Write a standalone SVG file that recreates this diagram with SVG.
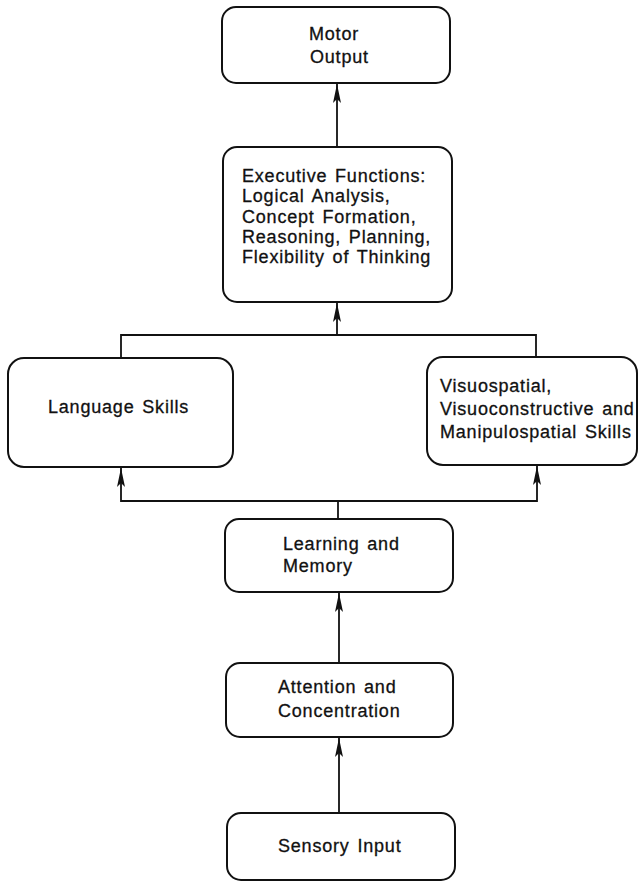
<svg xmlns="http://www.w3.org/2000/svg" width="640" height="882" viewBox="0 0 640 882">
<defs>
<marker id="ah" markerUnits="userSpaceOnUse" markerWidth="20" markerHeight="12" viewBox="-19 -6 20 12" refX="0" refY="0" orient="auto">
<path d="M0,0 L-19,-4 L-15,0 L-19,4 Z" fill="#111"/>
</marker>
</defs>
<style>
.box{fill:#fff;stroke:#111;stroke-width:2}
.t{font-family:"Liberation Sans",Arial,sans-serif;font-size:18px;fill:#111;stroke:#111;stroke-width:0.3;letter-spacing:0.8px;word-spacing:2px}
.c{fill:none;stroke:#111;stroke-width:1.8}
</style>
<rect width="640" height="882" fill="#fff"/>
<g id="connectors">
<line class="c" x1="337" y1="147" x2="337" y2="84" marker-end="url(#ah)"/>
<polyline class="c" points="121,358 121,335 536,335 536,357"/>
<line class="c" x1="337" y1="335" x2="337" y2="303" marker-end="url(#ah)"/>
<polyline class="c" points="338,501 121,501 121,468" marker-end="url(#ah)"/>
<polyline class="c" points="338,501 537,501 537,466" marker-end="url(#ah)"/>
<line class="c" x1="338" y1="519" x2="338" y2="501"/>
<line class="c" x1="339" y1="663" x2="339" y2="593" marker-end="url(#ah)"/>
<line class="c" x1="339" y1="813" x2="339" y2="738" marker-end="url(#ah)"/>
</g>
<g id="motor">
<rect class="box" x="222" y="7" width="228" height="76" rx="14"/>
<text class="t" x="309" y="40">Motor</text>
<text class="t" x="310" y="63">Output</text>
</g>
<g id="executive">
<rect class="box" x="223" y="147" width="229" height="155" rx="14"/>
<text class="t" x="242" y="182">Executive Functions:</text>
<text class="t" x="242" y="202">Logical Analysis,</text>
<text class="t" x="242" y="223">Concept Formation,</text>
<text class="t" x="242" y="243">Reasoning, Planning,</text>
<text class="t" x="242" y="263">Flexibility of Thinking</text>
</g>
<g id="language">
<rect class="box" x="8" y="358" width="225" height="109" rx="16"/>
<text class="t" x="48" y="413">Language Skills</text>
</g>
<g id="visuo">
<rect class="box" x="427" y="357" width="210" height="108" rx="16"/>
<text class="t" x="440" y="392">Visuospatial,</text>
<text class="t" x="440" y="415">Visuoconstructive and</text>
<text class="t" x="440" y="438">Manipulospatial Skills</text>
</g>
<g id="learning">
<rect class="box" x="225" y="519" width="228" height="73" rx="14"/>
<text class="t" x="283" y="550">Learning and</text>
<text class="t" x="283" y="572">Memory</text>
</g>
<g id="attention">
<rect class="box" x="226" y="663" width="227" height="74" rx="14"/>
<text class="t" x="278" y="693">Attention and</text>
<text class="t" x="278" y="717">Concentration</text>
</g>
<g id="sensory">
<rect class="box" x="227" y="813" width="228" height="67" rx="14"/>
<text class="t" x="278" y="852">Sensory Input</text>
</g>
</svg>
